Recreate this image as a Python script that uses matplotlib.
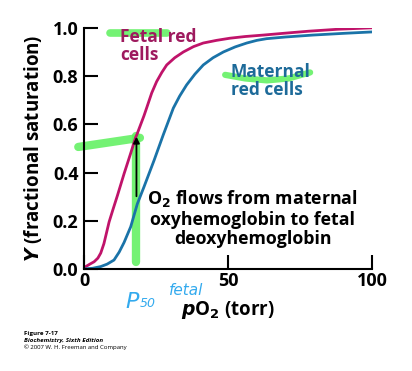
import matplotlib
matplotlib.use("Agg")
from matplotlib import pyplot as plt

# values
fetal_po2 = [0, 0.6, 2, 3.5, 4.8, 5.8, 6.9, 7.8, 8.7, 10, 11.6, 13.9, 16.2,
             17.9, 18.3, 20.8, 21.8, 23.5, 25.2, 27, 28.7, 31.5, 34.5, 38,
             41.4, 46, 50.7, 56, 62.3, 70, 78, 88, 100]
fetal_y = [0.0, 0.01, 0.02, 0.03, 0.045, 0.066, 0.105, 0.15, 0.195, 0.245,
           0.305, 0.395, 0.48, 0.545, 0.556, 0.635, 0.67, 0.73, 0.777, 0.815,
           0.846, 0.876, 0.90, 0.922, 0.937, 0.948, 0.957, 0.964, 0.97,
           0.978, 0.986, 0.994, 1.0]
maternal_po2 = [0, 3, 5.8, 8, 10.4, 12.2, 13.9, 16.2, 18.5, 20.8, 24.3, 27.5,
                31, 33.2, 35.6, 38.5, 41.4, 44.8, 48.4, 52.5, 56.5, 60,
                63.4, 70, 79.5, 90, 100]
maternal_y = [0.0, 0.003, 0.01, 0.02, 0.037, 0.07, 0.11, 0.175, 0.27, 0.34,
              0.45, 0.556, 0.667, 0.717, 0.763, 0.808, 0.846, 0.876, 0.90,
              0.921, 0.937, 0.948, 0.955, 0.962, 0.97, 0.977, 0.983]
xticks = [0, 50, 100]
yticks = [0.0, 0.2, 0.4, 0.6, 0.8, 1.0]

fetal_col = "#c0136a"
maternal_col = "#1a73a8"
green = "#5cf05c"

plt.rcParams["font.family"] = ["Open Sans", "DejaVu Sans"]

fig = plt.figure(figsize=(4.12, 3.71), dpi=100)
ax = fig.add_axes([0.204, 0.275, 0.699, 0.65])

ax.plot(fetal_po2, fetal_y, color=fetal_col, lw=2.0, solid_capstyle="round")
ax.plot(maternal_po2, maternal_y, color=maternal_col, lw=2.0,
        solid_capstyle="round")

ax.set_xlim(0, 100)
ax.set_ylim(0, 1.0)
for s in ["top", "right"]:
    ax.spines[s].set_visible(False)
for s in ["left", "bottom"]:
    ax.spines[s].set_linewidth(1.5)
ax.set_xticks(xticks)
ax.set_xticklabels([str(t) for t in xticks])
ax.set_yticks(yticks)
ax.set_yticklabels([f"{t:.1f}" for t in yticks])
ax.tick_params(direction="in", length=10, width=1.5, labelsize=13)
ax.tick_params(axis="x", pad=2)
ax.tick_params(axis="y", pad=4)
for lab in ax.get_xticklabels() + ax.get_yticklabels():
    lab.set_fontweight("bold")

ax.set_ylabel(r"$\mathbfit{Y}$ (fractional saturation)", fontsize=13.5,
              fontweight="bold", labelpad=6)
ax.set_xlabel(r"$\mathbfit{p}$O$_\mathbf{2}$ (torr)", fontsize=13.5,
              fontweight="bold", labelpad=7)

# arrow from maternal to fetal curve
ax.annotate("", xy=(18.2, 0.56), xytext=(18.2, 0.29),
            arrowprops=dict(arrowstyle="-|>", color="black", lw=1.3,
                            mutation_scale=9))

ax.text(12.5, 1.0, "Fetal red\ncells", color="#9e1a5e", fontsize=12.5,
        fontweight="bold", va="top", ha="left", linespacing=1.0)
ax.text(51, 0.855, "Maternal\nred cells", color="#1d6a99", fontsize=12.5,
        fontweight="bold", va="top", ha="left", linespacing=1.0)
ax.text(58.5, 0.335, "O$_\\mathbf{2}$ flows from maternal\noxyhemoglobin to fetal\ndeoxyhemoglobin",
        fontsize=12.8, fontweight="bold", ha="center", va="top",
        linespacing=1.1)

# highlighter marks
kw = dict(color=green, alpha=0.85, solid_capstyle="round", clip_on=False,
          zorder=0)
ax.plot([9, 28.8], [0.98, 0.98], lw=5.5, **kw)
ax.plot([-2, 19.4], [0.506, 0.544], lw=6, **kw)
ax.plot([18.0, 18.0], [0.55, 0.03], lw=6, **kw)
ax.plot([49, 56, 63.5, 71, 78.5], [0.805, 0.79, 0.782, 0.79, 0.815], lw=4.5,
        **kw)

# handwriting
hand = "#33aaee"
fig.text(0.305, 0.17, "P", color=hand, fontsize=16, family="DejaVu Sans",
         fontweight="light", style="italic")
fig.text(0.34, 0.172, "50", color=hand, fontsize=9, family="DejaVu Sans",
         style="italic")
fig.text(0.41, 0.205, "fetal", color=hand, fontsize=11, family="DejaVu Sans",
         style="italic")

# caption
fig.text(0.058, 0.097, "Figure 7-17", fontsize=4.5, fontweight="bold")
fig.text(0.058, 0.078, "Biochemistry, Sixth Edition", fontsize=4.5,
         fontweight="bold", style="italic")
fig.text(0.058, 0.058, "\u00a9 2007 W. H. Freeman and Company", fontsize=4.3)

fig.savefig("out.png", dpi=100)
